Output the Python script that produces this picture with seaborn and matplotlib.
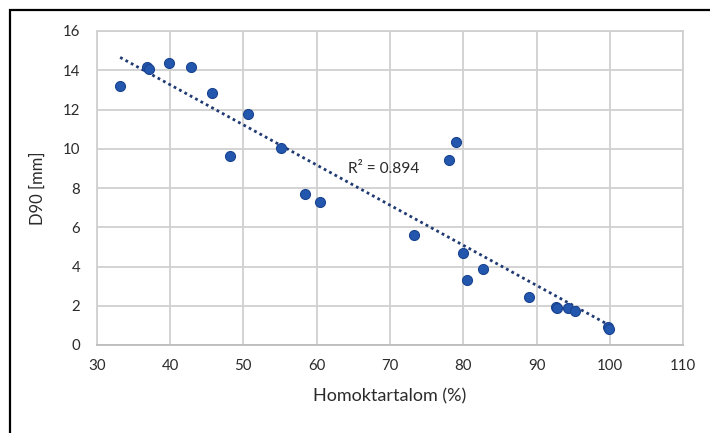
import matplotlib
matplotlib.use("Agg")
import matplotlib.pyplot as plt
import seaborn as sns
import pandas as pd
from matplotlib.patches import Rectangle

# Data
sand_pct = [33.2, 36.8, 37.2, 39.9, 42.8, 45.7, 48.2, 50.6, 55.1, 58.4, 60.4,
            73.3, 78.0, 79.0, 80.0, 80.5, 82.7, 88.9, 92.6, 92.8, 94.3, 95.2,
            99.7, 99.9]
d90_mm = [13.18, 14.16, 14.08, 14.35, 14.18, 12.86, 9.62, 11.77, 10.02, 7.70, 7.28,
          5.61, 9.45, 10.35, 4.71, 3.29, 3.87, 2.46, 1.95, 1.90, 1.87, 1.75,
          0.93, 0.81]
x_ticks = [30, 40, 50, 60, 70, 80, 90, 100, 110]
y_ticks = [0, 2, 4, 6, 8, 10, 12, 14, 16]
r2_label = "R² = 0.894"
x_title = "Homoktartalom (%)"
y_title = "D90 [mm]"

df = pd.DataFrame({"x": sand_pct, "y": d90_mm})

sns.set_theme(style="white")
plt.rcParams["font.family"] = ["Lato", "DejaVu Sans"]

fig = plt.figure(figsize=(7.10, 4.33), dpi=100)
ax = fig.add_axes([96.7 / 710, 1 - 345 / 433, (683.3 - 96.7) / 710, (345 - 31) / 433])

grid_c = "#d0d0d0"
text_c = "#2b2b2b"
sns.regplot(data=df, x="x", y="y", ax=ax, scatter=False, ci=None, truncate=True,
            line_kws=dict(color="#203a72", linestyle=(0, (1, 1.2)), linewidth=2.0, zorder=3))
sns.scatterplot(data=df, x="x", y="y", ax=ax, s=52, color="#2356ad",
                edgecolor="#1a4490", linewidth=0.8, zorder=4)

ax.set_xlim(30, 110)
ax.set_ylim(0, 16)
ax.set_xticks(x_ticks)
ax.set_yticks(y_ticks)
ax.set_xticklabels([str(t) for t in x_ticks])
ax.set_yticklabels([str(t) for t in y_ticks])
ax.grid(True, color=grid_c, linewidth=1.3)
ax.set_axisbelow(True)
for sp in ax.spines.values():
    sp.set_color(grid_c)
    sp.set_linewidth(1.3)
ax.spines["bottom"].set_color("#bdbdbd")
ax.tick_params(axis="both", length=0, labelsize=10.8, colors=text_c)
ax.tick_params(axis="y", pad=12)
ax.tick_params(axis="x", pad=10)

ax.set_xlabel(x_title, fontsize=13, color=text_c, labelpad=11)
ax.set_ylabel(y_title, fontsize=12, color=text_c, labelpad=12)

ax.text(69.1, 8.96, r2_label, fontsize=11.2, color=text_c, ha="center", va="center")

# outer chart frame (left & top visible)
fig.patches.append(Rectangle((10 / 710, -0.1), 1.2, (1 - 10 / 433) + 0.1,
                             transform=fig.transFigure, fill=False,
                             edgecolor="black", linewidth=1.6))

fig.savefig("out.png", dpi=100)
